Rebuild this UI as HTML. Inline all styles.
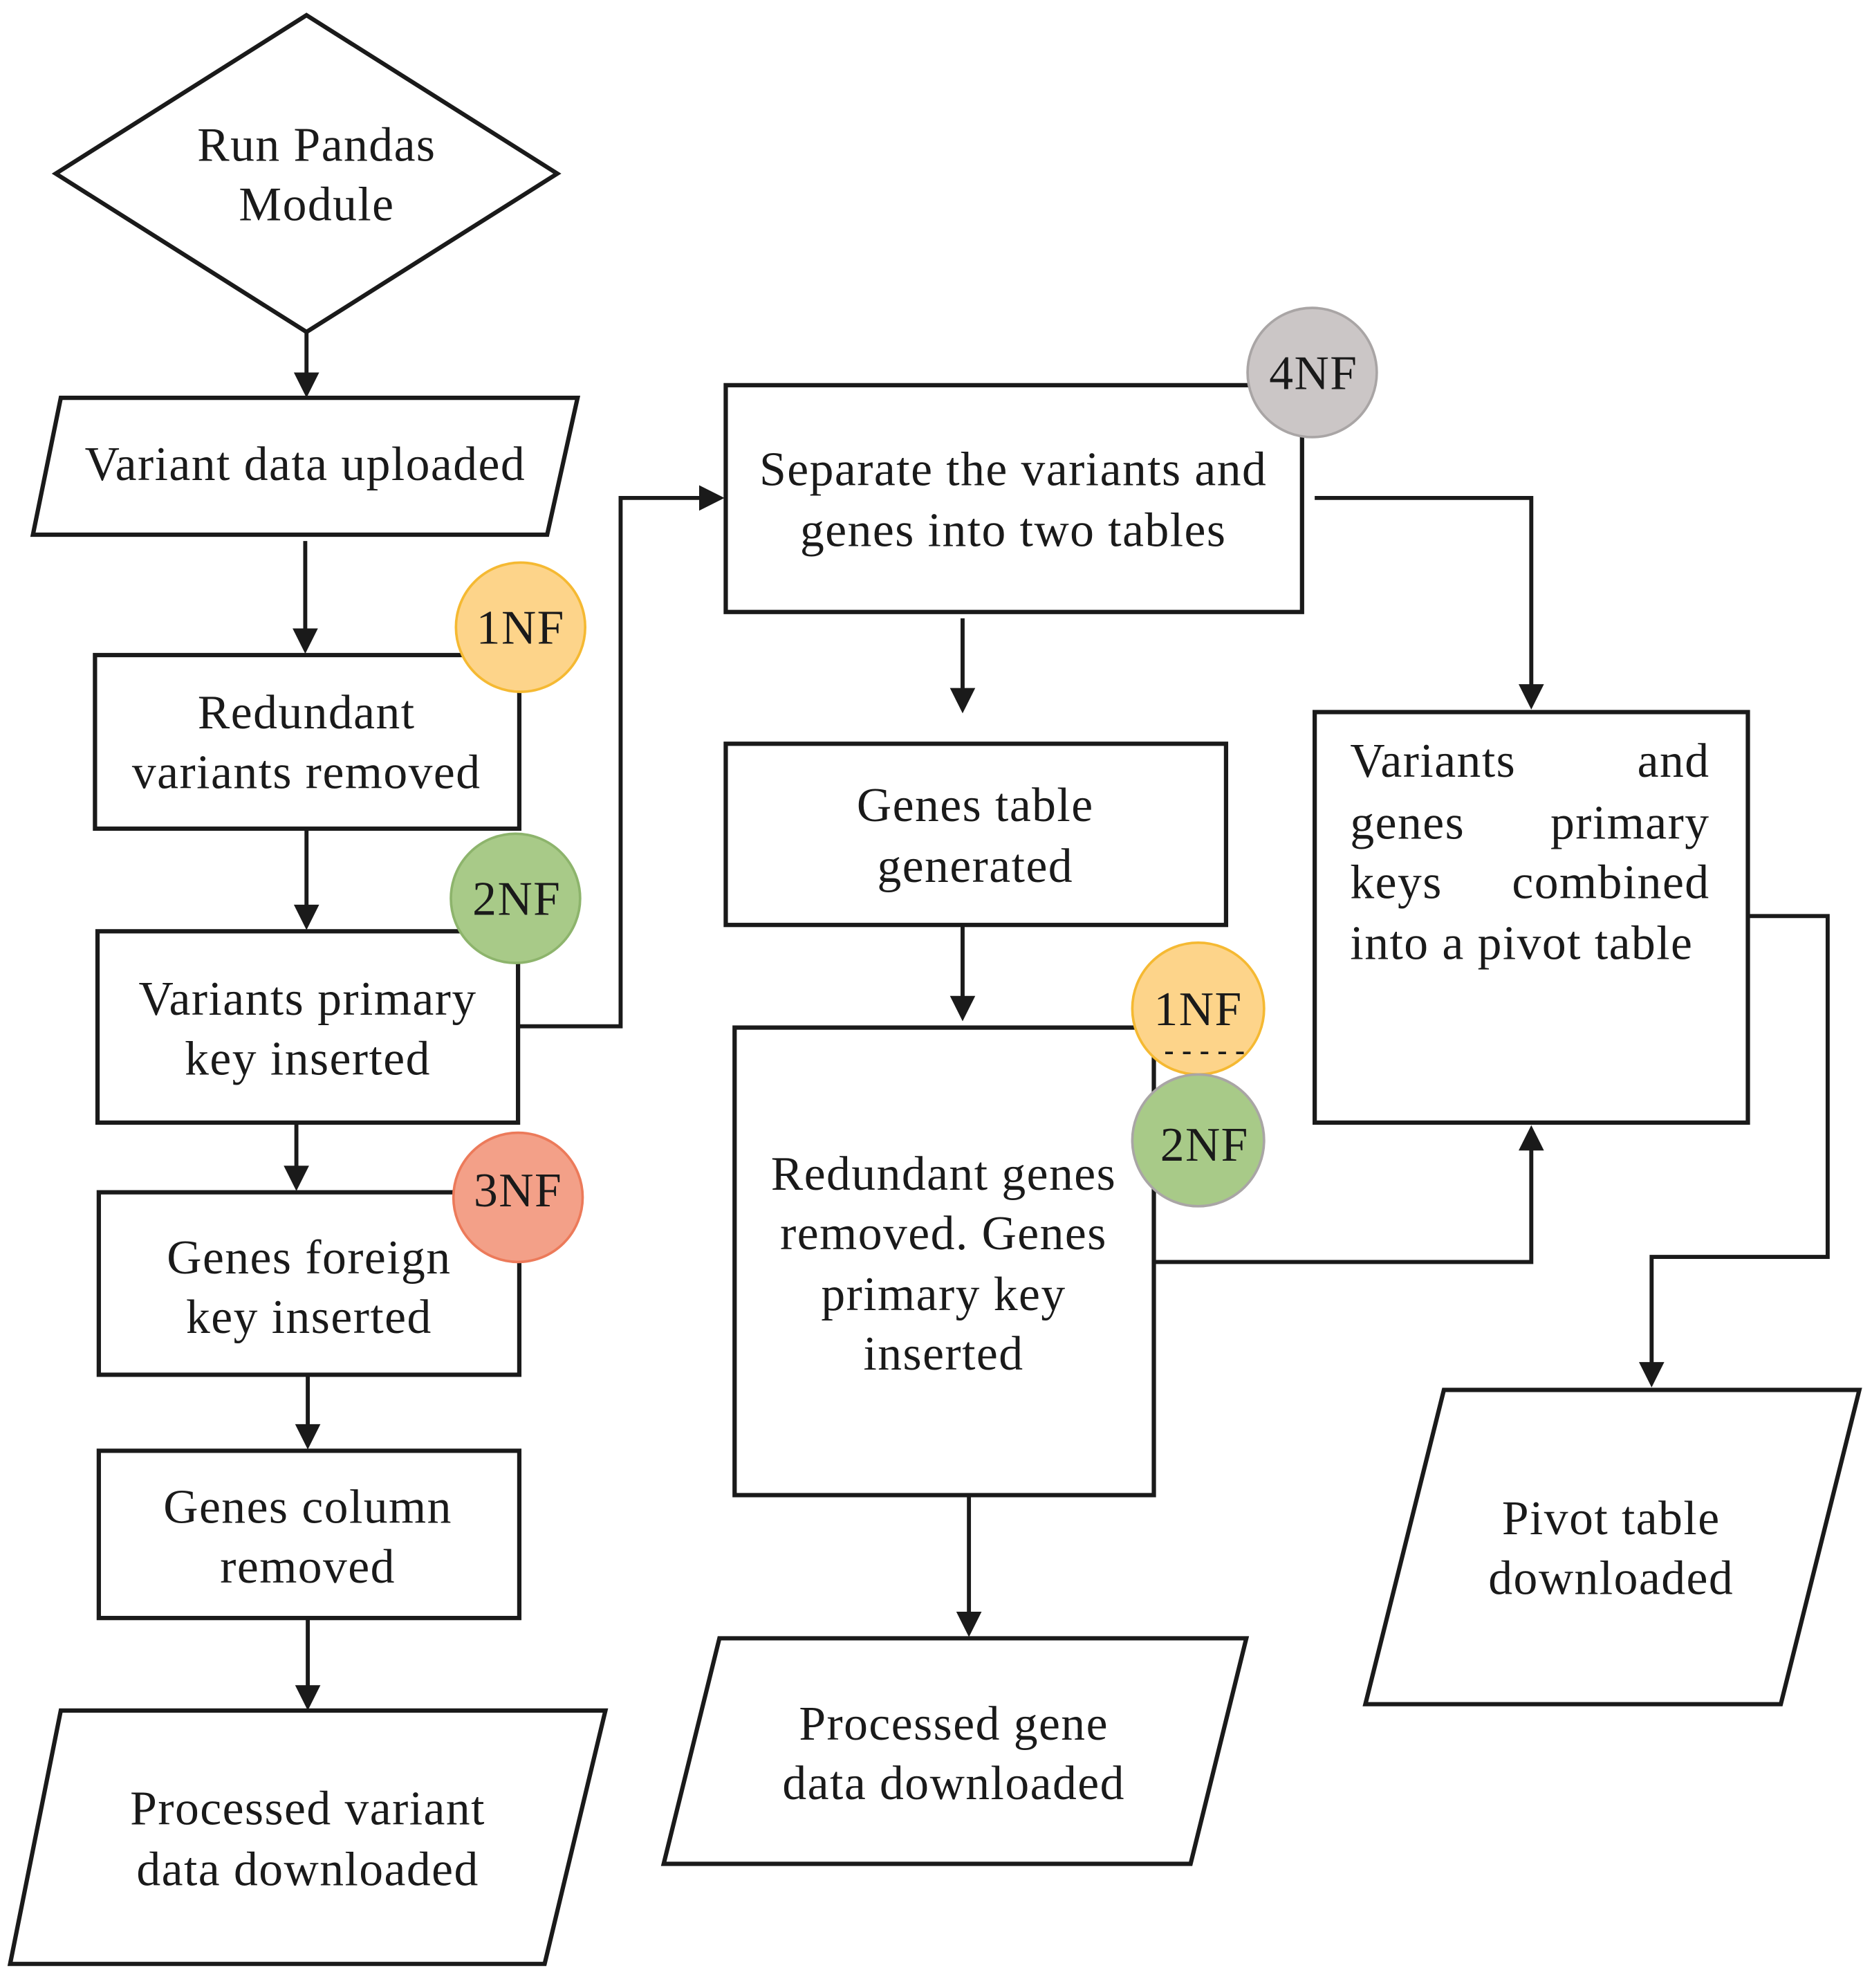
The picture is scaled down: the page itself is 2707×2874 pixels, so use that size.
<!DOCTYPE html>
<html><head><meta charset="utf-8"><style>
html,body{margin:0;padding:0;background:#fff}
svg{display:block}
text{font-family:"Liberation Serif",serif;font-size:38px;letter-spacing:0.8px;fill:#1a1a1a}
</style></head><body>
<svg width="2707" height="2874" viewBox="0 0 1478 1569" preserveAspectRatio="none" xmlns="http://www.w3.org/2000/svg">
<g fill="#fff" stroke="#1a1a1a" stroke-width="3.4">
<polygon points="242,12 440,137 242,262 44,137"/>
<polygon points="48,314 456,314 432,422 26,422"/>
<rect x="75" y="517" width="335" height="137"/>
<rect x="77" y="735" width="332" height="151"/>
<rect x="78" y="941" width="332" height="144"/>
<rect x="78" y="1145" width="332" height="132"/>
<polygon points="48,1350 478,1350 430,1550 8,1550"/>
<rect x="573" y="304" width="455" height="179"/>
<rect x="573" y="587" width="395" height="143"/>
<rect x="580" y="811" width="331" height="369"/>
<polygon points="568,1293 984,1293 940,1471 524,1471"/>
<rect x="1038" y="562" width="342" height="324"/>
<polygon points="1140,1097 1468,1097 1406,1345 1078,1345"/>
</g>
<g fill="none" stroke="#1a1a1a" stroke-width="3.2">
<line x1="242" y1="262" x2="242" y2="296"/>
<line x1="241" y1="427" x2="241" y2="498"/>
<line x1="242" y1="654" x2="242" y2="716"/>
<polyline points="409,810 490,810 490,393 554,393"/>
<line x1="234" y1="886" x2="234" y2="922"/>
<line x1="243" y1="1085" x2="243" y2="1126"/>
<line x1="243" y1="1277" x2="243" y2="1332"/>
<line x1="760" y1="488" x2="760" y2="545"/>
<line x1="760" y1="730" x2="760" y2="788"/>
<polyline points="911,996 1209,996 1209,906"/>
<line x1="765" y1="1180" x2="765" y2="1274"/>
<polyline points="1038,393 1209,393 1209,542"/>
<polyline points="1380,723 1443,723 1443,992 1304,992 1304,1077"/>
</g>
<g fill="#1a1a1a">
<polygon points="232,294 252,294 242,314"/>
<polygon points="231,496 251,496 241,516"/>
<polygon points="232,714 252,714 242,734"/>
<polygon points="552,383 552,403 572,393"/>
<polygon points="224,920 244,920 234,940"/>
<polygon points="233,1124 253,1124 243,1144"/>
<polygon points="233,1330 253,1330 243,1350"/>
<polygon points="750,543 770,543 760,563"/>
<polygon points="750,786 770,786 760,806"/>
<polygon points="1199,908 1219,908 1209,888"/>
<polygon points="755,1272 775,1272 765,1292"/>
<polygon points="1199,540 1219,540 1209,560"/>
<polygon points="1294,1075 1314,1075 1304,1095"/>
</g>
<g stroke-width="2">
<circle cx="411" cy="495" r="51" fill="#fdd48a" stroke="#f5b932"/>
<circle cx="407" cy="709" r="51" fill="#a8ca88" stroke="#8db46c"/>
<circle cx="409" cy="945" r="51" fill="#f3a088" stroke="#ec7a5a"/>
<circle cx="1036" cy="294" r="51" fill="#cbc6c6" stroke="#a9a5a5"/>
<ellipse cx="946" cy="796" rx="52" ry="52" fill="#fdd48a" stroke="#f5b932"/>
<ellipse cx="946" cy="900" rx="52" ry="52" fill="#a8ca88" stroke="#a9a5a5"/>
</g>
<line x1="920" y1="831" x2="985" y2="831" stroke="#1a1a1a" stroke-width="2" stroke-dasharray="6,8"/>
<g text-anchor="middle">
<text x="250" y="127">Run Pandas</text>
<text x="250" y="174">Module</text>
<text x="241" y="379">Variant data uploaded</text>
<text x="242" y="575">Redundant</text>
<text x="242" y="622">variants removed</text>
<text x="243" y="801">Variants primary</text>
<text x="243" y="848">key inserted</text>
<text x="244" y="1005">Genes foreign</text>
<text x="244" y="1052">key inserted</text>
<text x="243" y="1202">Genes column</text>
<text x="243" y="1249">removed</text>
<text x="243" y="1440">Processed variant</text>
<text x="243" y="1488">data downloaded</text>
<text x="800" y="383">Separate the variants and</text>
<text x="800" y="431">genes into two tables</text>
<text x="770" y="648">Genes table</text>
<text x="770" y="696">generated</text>
<text x="745" y="939">Redundant genes</text>
<text x="745" y="986">removed. Genes</text>
<text x="745" y="1034">primary key</text>
<text x="745" y="1081">inserted</text>
<text x="753" y="1373">Processed gene</text>
<text x="753" y="1420">data downloaded</text>
<text x="1272" y="1211">Pivot table</text>
<text x="1272" y="1258">downloaded</text>
<text x="411" y="508">1NF</text>
<text x="408" y="722">2NF</text>
<text x="409" y="952">3NF</text>
<text x="1037" y="307">4NF</text>
<text x="946" y="809">1NF</text>
<text x="951" y="916">2NF</text>
</g>
<text x="1066" y="613">Variants</text>
<text x="1350" y="613" text-anchor="end">and</text>
<text x="1066" y="662">genes</text>
<text x="1350" y="662" text-anchor="end">primary</text>
<text x="1066" y="709">keys</text>
<text x="1350" y="709" text-anchor="end">combined</text>
<text x="1066" y="757">into a pivot table</text>
</svg>
</body></html>
